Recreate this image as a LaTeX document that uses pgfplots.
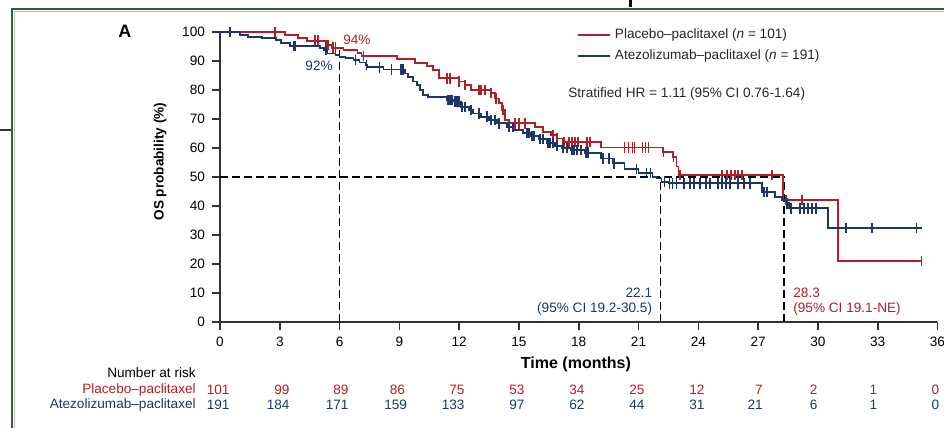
\documentclass[border=0pt]{standalone}
\usepackage{fontspec}
\setmainfont{Liberation Sans}
\usepackage{pgfplots}
\pgfplotsset{compat=1.18}
\definecolor{kmred}{RGB}{178,30,38}
\definecolor{kmblue}{RGB}{28,54,104}
\definecolor{axisgray}{RGB}{50,50,50}
\definecolor{framegreen}{RGB}{45,95,60}
\newcommand{\fs}{\fontsize{6.8}{8}\selectfont}
\begin{document}
\begin{tikzpicture}
\begin{axis}[
 at={(110pt,53pt)}, anchor=south west,
 scale only axis, width=358.75pt, height=145pt,
 xmin=0, xmax=36, ymin=0, ymax=100,
 axis lines=left, axis line style={-, draw=axisgray, line width=1pt},
 xtick={0,3,...,36}, ytick={0,10,...,100},
 tick align=outside, major tick length=4pt,
 tick style={draw=axisgray, line width=0.8pt},
 ticklabel style={font=\fs, text=black},
 /pgf/number format/assume math mode=true,
 clip=false,
 legend style={at={(axis cs:17.9,102.6)}, anchor=north west, draw=none, fill=none,
   font=\fs, inner sep=0pt, row sep=0pt, cells={anchor=west}, text=black!85},
 legend image code/.code={\draw[#1, line width=0.9pt] (0pt,0pt) -- (16pt,0pt);},
]
% reference lines
\addplot[forget plot, black, line width=0.75pt, dash pattern=on 4pt off 2pt] coordinates {(0,50) (28.3,50)};
\addplot[forget plot, black, line width=0.75pt, dash pattern=on 4pt off 2pt] coordinates {(6,0) (6,93.8)};
\addplot[forget plot, black, line width=0.75pt, dash pattern=on 4pt off 2pt] coordinates {(22.1,0) (22.1,50)};
\addplot[forget plot, black, line width=0.75pt, dash pattern=on 4pt off 2pt] coordinates {(28.3,0) (28.3,50)};

% Placebo-paclitaxel
\addplot[kmred, line width=0.9pt, const plot, mark=none] coordinates {
(0,100) (3.26,99.0) (3.9,98.0) (4.35,97.0) (5.3,95.6) (5.6,94.6) (6.2,93.7) (6.9,92.8) (7.1,91.8) (8.9,90.6) (9.8,89.4) (10.4,88.3) (10.7,86.9) (11.0,84.0) (12.0,82.9) (12.3,81.7) (12.6,80.0) (13.6,78.9) (13.8,77.1) (14.0,75.4) (14.15,73.1) (14.3,69.7) (14.5,68.5) (15.8,67.3) (16.2,65.6) (16.6,64.5) (16.9,63.3) (17.2,62.0) (19.1,60.2) (22.2,58.7) (22.7,57.0) (22.9,53.6) (23.0,50.7) (28.25,42.1) (31.0,21.1) (35.2,21.1)};
\addlegendentry{Placebo–paclitaxel (\textit{n} = 101)}
% Atezolizumab-paclitaxel
\addplot[kmblue, line width=0.9pt, const plot, mark=none] coordinates {
(0,100) (1.0,98.9) (1.4,98.3) (2.1,97.8) (2.8,97.2) (3.05,96.1) (3.5,95.2) (5.0,94.4) (5.2,93.8) (5.35,92.6) (5.8,92.1) (6.0,91.5) (6.3,90.9) (6.7,90.3) (7.0,89.5) (7.3,88.6) (7.4,87.8) (8.2,87.1) (9.3,85.7) (9.45,84.4) (9.7,82.9) (9.9,81.7) (10.05,80.0) (10.2,78.3) (10.45,77.5) (11.4,76.6) (11.7,76.0) (12.1,74.2) (12.5,73.1) (12.7,71.9) (13.1,70.8) (13.5,69.7) (13.9,68.5) (14.4,67.3) (14.8,66.2) (15.2,65.1) (15.6,64.1) (16.0,63.0) (16.4,61.8) (16.8,60.7) (17.15,59.9) (17.6,59.3) (18.3,58.4) (19.1,56.4) (19.7,54.7) (20.3,52.8) (21.0,51.3) (21.7,50.1) (21.9,49.5) (22.15,48.4) (22.5,47.8) (27.2,44.9) (27.85,43.2) (28.2,42.1) (28.4,40.9) (28.55,39.2) (30.5,32.5) (35.2,32.5)};
\addlegendentry{Atezolizumab–paclitaxel (\textit{n} = 191)}

% censor marks
\addplot[forget plot, kmred, only marks, mark=|, mark size=2.6pt, mark options={line width=0.9pt}] coordinates {
(2.76,100) (4.77,97.0) (4.92,97.0) (5.4,95.6) (5.67,94.6) (5.8,94.6) (7.2,91.8) (11.4,84.0) (11.55,84.0) (12.0,82.9) (12.3,81.7) (13.0,80.0) (13.1,80.0) (13.3,80.0) (13.6,78.9) (13.85,77.1) (14.2,73.1) (14.8,68.5) (15.0,68.5) (15.3,68.5) (16.7,64.5) (16.9,63.3) (17.25,62.0) (17.5,62.0) (17.65,62.0) (17.8,62.0) (17.95,62.0) (18.4,62.0) (18.55,62.0) (20.3,60.2) (20.5,60.2) (20.7,60.2) (20.8,60.2) (21.2,60.2) (21.35,60.2) (21.5,60.2) (22.25,58.7) (22.75,57.0) (23.1,50.7) (25.2,50.7) (25.45,50.7) (25.65,50.7) (25.85,50.7) (26.0,50.7) (26.2,50.7) (27.7,50.7) (28.4,42.1) (29.2,42.1) (35.2,21.1)};
\addplot[forget plot, kmblue, only marks, mark=|, mark size=2.6pt, mark options={line width=0.9pt}] coordinates {
(0.5,100) (3.7,95.2) (3.78,95.2) (5.3,93.8) (6.8,90.3) (7.35,88.6) (8.0,87.8) (8.6,87.1) (9.1,87.1) (9.2,87.1) (11.45,76.6) (11.55,76.6) (11.65,76.6) (11.8,76.0) (11.9,76.0) (12.0,76.0) (12.15,74.2) (12.3,74.2) (12.6,73.1) (13.0,71.9) (13.4,70.8) (13.6,69.7) (13.8,69.7) (14.0,68.5) (14.5,67.3) (14.7,67.3) (15.4,65.1) (15.5,65.1) (15.65,64.1) (15.75,64.1) (16.05,63.0) (16.2,63.0) (16.45,61.8) (16.55,61.8) (16.7,61.8) (16.9,60.7) (17.2,59.9) (17.4,59.9) (17.65,59.3) (17.75,59.3) (17.9,59.3) (18.1,59.3) (18.35,58.4) (18.45,58.4) (19.2,56.4) (19.5,56.4) (19.75,54.7) (20.9,52.8) (21.4,51.3) (21.6,51.3) (22.3,48.4) (22.55,47.8) (22.7,47.8) (22.9,47.8) (23.3,47.8) (23.6,47.8) (23.8,47.8) (24.1,47.8) (24.4,47.8) (24.6,47.8) (25.0,47.8) (25.2,47.8) (25.4,47.8) (25.6,47.8) (26.0,47.8) (26.3,47.8) (26.6,47.8) (27.3,44.9) (27.45,44.9) (28.45,40.9) (28.65,39.2) (29.1,39.2) (29.3,39.2) (29.5,39.2) (29.7,39.2) (29.9,39.2) (31.4,32.5) (32.7,32.5) (34.95,32.5)};

% annotations
\node[font=\fs, text=kmred] at (axis cs:6.87,97.2) {94\%};
\node[font=\fs, text=kmblue] at (axis cs:4.97,88.3) {92\%};
\node[font=\fs, text=kmblue, anchor=east, inner sep=0pt] at (axis cs:21.7,10.2) {22.1};
\node[font=\fs, text=kmblue, anchor=east, inner sep=0pt] at (axis cs:21.7,4.5) {(95\% CI 19.2-30.5)};
\node[font=\fs, text=kmred, anchor=west, inner sep=0pt] at (axis cs:28.75,10.2) {28.3};
\node[font=\fs, text=kmred, anchor=west, inner sep=0pt] at (axis cs:28.75,4.5) {(95\% CI 19.1-NE)};
\node[font=\fs, text=black!85, anchor=west, inner sep=0pt] at (axis cs:17.46,78.6) {Stratified HR = 1.11 (95\% CI 0.76-1.64)};
\node[font=\fontsize{9}{10}\selectfont\bfseries, text=black] at (axis cs:-4.77,100.3) {A};
\node[font=\fs\bfseries, text=black, rotate=90] at (axis cs:-3.0,55.3) {OS probability (\%)};
\node[font=\fontsize{8}{9}\selectfont\bfseries, text=black] at (axis cs:17.86,-14.5) {Time (months)};

% number at risk
\node[font=\fs, text=black, anchor=east, inner sep=0pt] at (axis cs:-1.2,-17.6) {Number at risk};
\node[font=\fs, text=kmred, anchor=east, inner sep=0pt] at (axis cs:-1.2,-23.4) {Placebo–paclitaxel};
\node[font=\fs, text=kmblue, anchor=east, inner sep=0pt] at (axis cs:-1.2,-28.6) {Atezolizumab–paclitaxel};
\tikzset{rr/.style={font=\fs, text=kmred, anchor=east, inner sep=0pt}, rb/.style={font=\fs, text=kmblue, anchor=east, inner sep=0pt}}
\node[rr] at (axis cs:0.5,-23.4) {101};
\node[rr] at (axis cs:3.51,-23.4) {99};
\node[rr] at (axis cs:6.47,-23.4) {89};
\node[rr] at (axis cs:9.3,-23.4) {86};
\node[rr] at (axis cs:12.29,-23.4) {75};
\node[rr] at (axis cs:15.3,-23.4) {53};
\node[rr] at (axis cs:18.31,-23.4) {34};
\node[rr] at (axis cs:21.32,-23.4) {25};
\node[rr] at (axis cs:24.33,-23.4) {12};
\node[rr] at (axis cs:27.25,-23.4) {7};
\node[rr] at (axis cs:30.0,-23.4) {2};
\node[rr] at (axis cs:33.0,-23.4) {1};
\node[rr] at (axis cs:36.1,-23.4) {0};
\node[rb] at (axis cs:0.5,-28.6) {191};
\node[rb] at (axis cs:3.51,-28.6) {184};
\node[rb] at (axis cs:6.47,-28.6) {171};
\node[rb] at (axis cs:9.4,-28.6) {159};
\node[rb] at (axis cs:12.29,-28.6) {133};
\node[rb] at (axis cs:15.3,-28.6) {97};
\node[rb] at (axis cs:18.31,-28.6) {62};
\node[rb] at (axis cs:21.32,-28.6) {44};
\node[rb] at (axis cs:24.33,-28.6) {31};
\node[rb] at (axis cs:27.25,-28.6) {21};
\node[rb] at (axis cs:30.0,-28.6) {6};
\node[rb] at (axis cs:33.0,-28.6) {1};
\node[rb] at (axis cs:36.1,-28.6) {0};
\end{axis}
% frame
\draw[framegreen, line width=1.2pt] (6pt,0) -- (6pt,209.5pt) -- (472pt,209.5pt);
\draw[black!25, line width=0.5pt] (7.3pt,0) -- (7.3pt,208.3pt) -- (472pt,208.3pt);
\draw[axisgray, line width=0.7pt] (0,149pt) -- (5.5pt,149pt);
\fill[black] (314.5pt,210.5pt) rectangle (316pt,214pt);
\pgfresetboundingbox
\path (0,0) rectangle (472pt,214pt);
\end{tikzpicture}
\end{document}
